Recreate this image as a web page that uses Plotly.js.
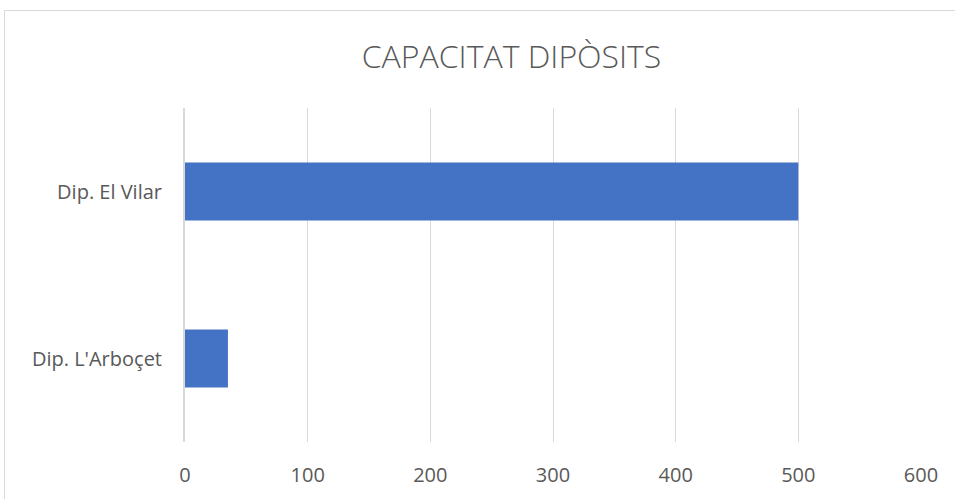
<!DOCTYPE html>
<html>
<head>
<meta charset="utf-8">
<script src="https://cdn.plot.ly/plotly-3.0.1.min.js"></script>
<style>html,body{margin:0;padding:0;background:#fff;}#chart{width:955px;height:499px;}</style>
</head>
<body>
<div id="chart"></div>
<script>
const categories = ["Dip. El Vilar", "Dip. L'Arboçet"];
const capacity = [500, 35];
const xTicks = [0, 100, 200, 300, 400, 500, 600];
const chartTitle = "CAPACITAT DIPÒSITS";

const trace = {
  type: 'bar',
  orientation: 'h',
  y: categories,
  x: capacity,
  marker: {color: '#4472C4'},
  hoverinfo: 'x+y'
};

const layout = {
  width: 955,
  height: 499,
  margin: {l: 185, r: 34, t: 108, b: 57},
  paper_bgcolor: '#ffffff',
  plot_bgcolor: '#ffffff',
  showlegend: false,
  bargap: 0.653,
  title: {
    text: chartTitle,
    font: {family: 'Open Sans, sans-serif', size: 32, color: '#595959', weight: 300},
    x: 511.5 / 955, xanchor: 'center', xref: 'container',
    y: 1 - 57/499, yanchor: 'middle', yref: 'container'
  },
  xaxis: {
    range: [0, 600],
    tickvals: xTicks,
    showgrid: true,
    gridcolor: '#d9d9d9',
    gridwidth: 1,
    zeroline: false,
    showline: false,
    ticks: '',
    ticklabelstandoff: 19,
    tickfont: {family: 'Open Sans, sans-serif', size: 20, color: '#595959'},
    fixedrange: true
  },
  yaxis: {
    type: 'category',
    autorange: 'reversed',
    showgrid: false,
    zeroline: false,
    showline: true,
    linecolor: '#d9d9d9',
    linewidth: 2,
    ticks: '',
    ticklabelstandoff: 17,
    tickfont: {family: 'Open Sans, sans-serif', size: 20, color: '#595959'},
    fixedrange: true
  },
  shapes: [{
    type: 'rect', xref: 'paper', yref: 'paper',
    x0: (4.5 - 185) / 736, x1: (960 - 185) / 736,
    y0: (442 - 505) / 334, y1: (442 - 10.5) / 334,
    line: {color: '#d9d9d9', width: 1}, fillcolor: 'rgba(0,0,0,0)', layer: 'below'
  }]
};

Plotly.newPlot('chart', [trace], layout, {displayModeBar: false, staticPlot: true});
</script>
</body>
</html>
